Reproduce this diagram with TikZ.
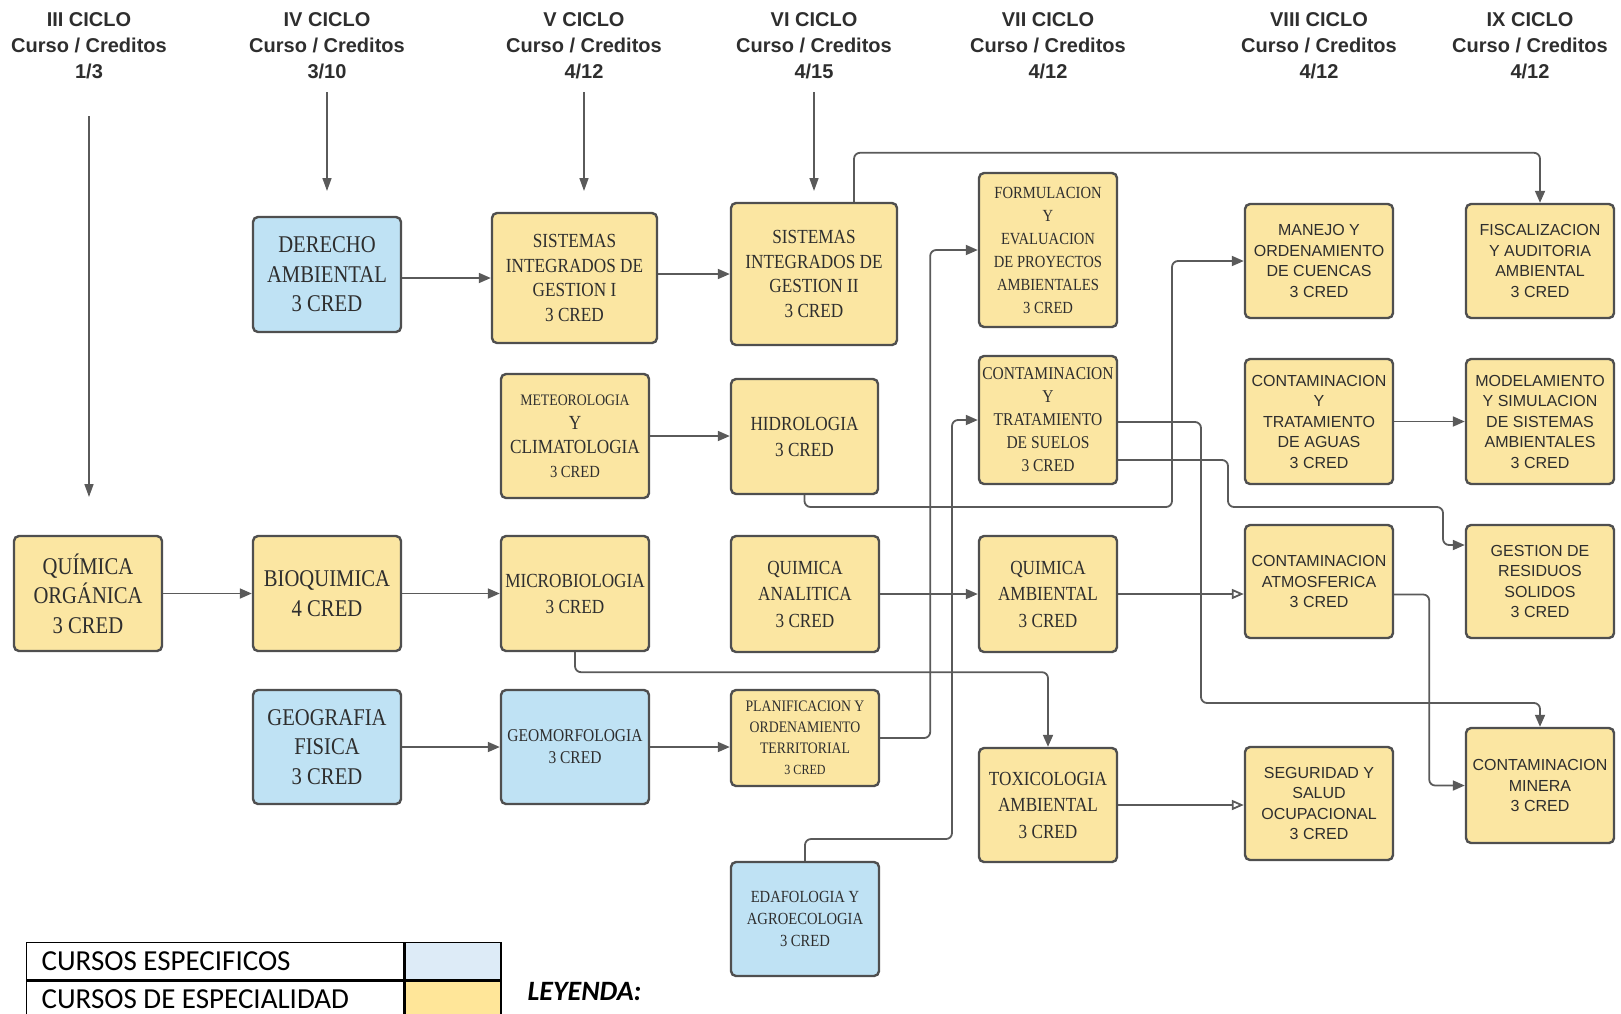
\documentclass[tikz,border=0pt]{standalone}
\usepackage{fontspec}
\usepackage{tikz}
\usetikzlibrary{arrows.meta}
\usetikzlibrary{positioning}

\newfontfamily\boxserif[FakeStretch=0.86]{Liberation Serif}
\newfontfamily\boxsans{Liberation Sans}
\newfontfamily\legfont{Carlito}

\newcommand{\fs}[2]{\fontsize{#1}{#2}\selectfont}

\definecolor{yelbox}{HTML}{FBE6A2}
\definecolor{blubox}{HTML}{BFE2F4}
\definecolor{boxline}{HTML}{4F4F4F}
\definecolor{linecol}{HTML}{5A5A5A}
\definecolor{txtcol}{HTML}{2E2E2E}
\definecolor{legblue}{HTML}{DDEBF7}
\definecolor{legyel}{HTML}{FFE699}

\tikzset{
	course/.style={draw=boxline, line width=2.4pt, rounded corners=5pt, align=center,
		inner sep=0pt, text=txtcol, minimum width=148pt, minimum height=115pt},
	yel/.style={course, fill=yelbox},
	blu/.style={course, fill=blubox},
	sans/.style={font=\boxsans\fs{16}{20.5}},
	conn/.style={draw=linecol, line width=1.8pt, rounded corners=6pt,
		-{Triangle[length=12pt,width=10pt]}},
	oconn/.style={draw=linecol, line width=1.8pt, -{Triangle[open,length=12pt,width=10pt]}},
	harrow/.style={draw=linecol, line width=1.5pt, -{Triangle[length=13pt,width=9pt]}},
	hdr/.style={align=center, text=txtcol, font=\boxsans\bfseries\fs{20}{25.8}},
	legtxt/.style={draw=black, line width=1.3pt, minimum height=37pt, text width=347pt,
		inner xsep=15pt, inner ysep=0pt, align=flush left, font=\legfont\fs{29}{30}},
	legsw/.style={draw=black, line width=1.3pt, minimum width=96pt, minimum height=37pt, inner sep=0pt},
}

\begin{document}
\begin{tikzpicture}[x=1pt, y=-1pt]
	\useasboundingbox (0,0) rectangle (1621,1013);
	\clip (0,0) rectangle (1621,1013);
	
	% ciclos
	\node[hdr] (h3) at (89,45.5) {III CICLO\\Curso / Creditos\\1/3};
	\node[hdr] (h4) at (327,45.5) {IV CICLO\\Curso / Creditos\\3/10};
	\node[hdr] (h5) at (584,45.5) {V CICLO\\Curso / Creditos\\4/12};
	\node[hdr] (h6) at (814,45.5) {VI CICLO\\Curso / Creditos\\4/15};
	\node[hdr] (h7) at (1048,45.5) {VII CICLO\\Curso / Creditos\\4/12};
	\node[hdr] (h8) at (1319,45.5) {VIII CICLO\\Curso / Creditos\\4/12};
	\node[hdr] (h9) at (1530,45.5) {IX CICLO\\Curso / Creditos\\4/12};
	
	\foreach \n/\x/\ya/\yb in {3/89/116/497, 4/327/92/191, 5/584/92/191, 6/814/92/191} {
		\coordinate (top\n) at (\x,\ya);
		\coordinate (bot\n) at (\x,\yb);
		\draw[harrow] (top\n) -- (bot\n);
	}
	
	% fila 1
	\node[blu, font=\boxserif\fs{24}{29.5}] (der) at (327,274.5) {DERECHO\\AMBIENTAL\\3 CRED};
	\node[yel, minimum width=165pt, minimum height=130pt, font=\boxserif\fs{20}{24.5}] (sg1) at (574.5,278) {SISTEMAS\\INTEGRADOS DE\\GESTION I\\3 CRED};
	\node[yel, minimum width=166pt, minimum height=142pt, font=\boxserif\fs{20}{24.5}] (sg2) at (814,274) {SISTEMAS\\INTEGRADOS DE\\GESTION II\\3 CRED};
	\node[yel, minimum width=138pt, minimum height=154pt, font=\boxserif\fs{17}{23}] (frm) at (1048,250) {FORMULACION\\Y\\EVALUACION\\DE PROYECTOS\\AMBIENTALES\\3 CRED};
	\node[yel, sans, minimum height=114pt] (man) at (1319,261) {MANEJO Y\\ORDENAMIENTO\\DE CUENCAS\\3 CRED};
	\node[yel, sans, minimum height=114pt] (fis) at (1540,261) {FISCALIZACION\\Y AUDITORIA\\AMBIENTAL\\3 CRED};
	
	% fila 2
	\node[yel, minimum height=124pt, font=\boxserif\fs{20}{24}] (met) at (575,436) {\fs{16}{24}METEOROLOGIA\\\fs{20}{24}Y\\\fs{20}{24}CLIMATOLOGIA\\\fs{17}{24}3 CRED};
	\node[yel, minimum width=147pt, font=\boxserif\fs{20}{26}] (hid) at (804.5,436.5) {HIDROLOGIA\\3 CRED};
	\node[yel, minimum width=138pt, minimum height=128pt, font=\boxserif\fs{18}{23}] (sue) at (1048,420) {CONTAMINACION\\Y\\TRATAMIENTO\\DE SUELOS\\3 CRED};
	\node[yel, sans, minimum height=125pt] (agu) at (1319,421.5) {CONTAMINACION\\Y\\TRATAMIENTO\\DE AGUAS\\3 CRED};
	\node[yel, sans, minimum height=125pt] (mod) at (1540,421.5) {MODELAMIENTO\\Y SIMULACION\\DE SISTEMAS\\AMBIENTALES\\3 CRED};
	
	% fila 3
	\node[yel, font=\boxserif\fs{24}{29.5}] (qo) at (88,593.5) {QUÍMICA\\ORGÁNICA\\3 CRED};
	\node[yel, font=\boxserif\fs{24}{29.5}] (bio) at (327,593.5) {BIOQUIMICA\\4 CRED};
	\node[yel, font=\boxserif\fs{20}{26}] (mic) at (575,593.5) {MICROBIOLOGIA\\3 CRED};
	\node[yel, minimum height=116pt, font=\boxserif\fs{20}{26.5}] (qan) at (805,594) {QUIMICA\\ANALITICA\\3 CRED};
	\node[yel, minimum width=138pt, minimum height=116pt, font=\boxserif\fs{20}{26.5}] (qam) at (1048,594) {QUIMICA\\AMBIENTAL\\3 CRED};
	\node[yel, sans, minimum height=113pt] (atm) at (1319,581.5) {CONTAMINACION\\ATMOSFERICA\\3 CRED};
	\node[yel, sans, minimum height=113pt] (res) at (1540,581.5) {GESTION DE\\RESIDUOS\\SOLIDOS\\3 CRED};
	
	% fila 4
	\node[blu, minimum height=114pt, font=\boxserif\fs{24}{29.5}] (geo) at (327,747) {GEOGRAFIA\\FISICA\\3 CRED};
	\node[blu, minimum height=114pt, font=\boxserif\fs{18}{22}] (gmf) at (575,747) {GEOMORFOLOGIA\\3 CRED};
	\node[yel, minimum height=96pt, font=\boxserif\fs{16}{21}] (pla) at (805,738) {\fs{16}{21}PLANIFICACION Y\\\fs{16}{21}ORDENAMIENTO\\\fs{16}{21}TERRITORIAL\\\fs{14}{21}3 CRED};
	\node[yel, minimum width=138pt, minimum height=114pt, font=\boxserif\fs{20}{26.5}] (tox) at (1048,805) {TOXICOLOGIA\\AMBIENTAL\\3 CRED};
	\node[yel, sans, minimum height=113pt] (seg) at (1319,803.5) {SEGURIDAD Y\\SALUD\\OCUPACIONAL\\3 CRED};
	\node[yel, sans] (min) at (1540,785.5) {CONTAMINACION\\MINERA\\3 CRED};
	\node[blu, minimum height=114pt, font=\boxserif\fs{17}{22}] (eda) at (805,919) {EDAFOLOGIA Y\\AGROECOLOGIA\\3 CRED};
	
	% prerrequisitos
	\draw[conn] (der.east |- sg1.west) -- (sg1.west);
	\draw[conn] (sg1.east |- sg2.west) -- (sg2.west);
	\draw[conn] ([xshift=40pt]sg2.north) -- ++(0,-49) -| (fis.north);
	\draw[conn] (met.east) -- (met.east -| hid.west);
	\draw[conn] (hid.south) |- (1172,507) |- (man.west);
	\draw[conn] (agu) -- (mod);
	\draw[conn] ([yshift=-2pt]sue.east) -| (1201,703) -| (min.north);
	\draw[conn] ([yshift=-40pt]sue.east) -| (1228,507) -| (1443,545) -- ([yshift=36.5pt]res.west);
	\draw[conn] (qo) -- (bio);
	\draw[conn] (bio) -- (mic);
	\draw[conn] (mic.south) -- ++(0,20) -| (tox.north);
	\draw[conn] (qan) -- (qam);
	\draw[oconn] (qam.east) -- (qam.east -| atm.west);
	\draw[conn] ([yshift=-13pt]atm.east) -- ++(35,0) |- (min.west);
	\draw[conn] (geo) -- (gmf);
	\draw[conn] (gmf.east) -- (gmf.east -| pla.west);
	\draw[conn] (pla.east) -- ++(50,0) |- (frm.west);
	\draw[conn] (eda.north) |- (952,839) |- (sue.west);
	\draw[oconn] (tox.east) -- (tox.east -| seg.west);
	
	% leyenda
	\node[legtxt, anchor=north west] (lg1) at (26,942) {CURSOS ESPECIFICOS};
	\node[legtxt, below=0pt of lg1] (lg2) {CURSOS DE ESPECIALIDAD};
	\node[legsw, fill=legblue, right=0pt of lg1] (sw1) {};
	\node[legsw, fill=legyel, right=0pt of lg2] (sw2) {};
	\node[anchor=west, font=\legfont\bfseries\itshape\fs{28}{30}] (ley) at (524,991) {LEYENDA:};
\end{tikzpicture}
\end{document}
